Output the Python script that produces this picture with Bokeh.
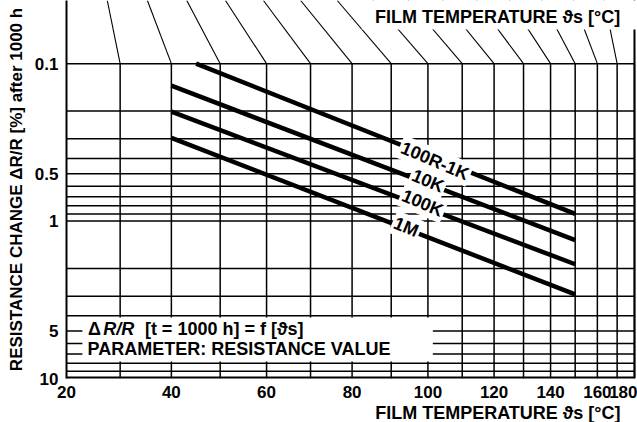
import numpy as np
from bokeh.plotting import figure
from bokeh.models import (Range1d, FixedTicker, CustomJSTickFormatter, BoxAnnotation,
                          Label, ColumnDataSource, Title)
from bokeh.embed import file_html
from bokeh.resources import INLINE

# ---------------- data ----------------
grid_temps = [30, 40, 50, 60, 70, 80, 90, 100, 110, 120, 130, 140, 150, 160, 170, 180]
x_tick_temps = [20, 40, 60, 80, 100, 120, 140, 160, 180]
y_tick_values = [0.1, 0.5, 1, 5, 10]
y_grid_values = [0.1, 0.2, 0.3, 0.4, 0.5, 0.6, 0.7, 0.8, 0.9,
                 1, 2, 3, 4, 5, 6, 7, 8, 9]

series_names = ["100R-1K", "10K", "100K", "1M"]
series_t_start = [45, 40, 40, 40]
series_t_end = [150, 150, 150, 150]
series_dr_start = [0.10, 0.138, 0.202, 0.296]
series_dr_end = [0.90, 1.32, 1.88, 2.92]
label_t = [102, 100, 98.5, 94]
label_dr = [0.415, 0.556, 0.768, 1.09]

TITLE = "FILM TEMPERATURE \u03d1s [\u00b0C]"
Y_LABEL = "RESISTANCE CHANGE \u0394R/R [%] after 1000 h"
NOTE1_PARTS = ["\u0394", "R/R", "[t = 1000 h] = f [\u03d1s]"]
NOTE1_STYLES = ["bold", "bold italic", "bold"]
NOTE1_X = [0.0377, 0.0646, 0.138]
NOTE2 = "PARAMETER: RESISTANCE VALUE"

# ------------- temperature scale of the chart (nomogram axis) -------------
A_BOT, B_BOT = 0.09658, 0.00213
A_TOP, B_TOP = 0.07245, 0.000622


def warp_bottom(T):
    t = (np.asarray(T, dtype=float) - 20.0) / 10.0
    return A_BOT * t - B_BOT * t ** 2


def warp_top(T):
    t = (np.asarray(T, dtype=float) - 20.0) / 10.0
    return A_TOP * t - B_TOP * t ** 2


Y_TOP = 0.0397
X_END = 1.0053
FONT = "Liberation Sans"
FS = "18px"
FS_TICK = "17px"

p = figure(width=637, height=422, y_axis_type="log",
           x_range=Range1d(0, X_END), y_range=Range1d(10, Y_TOP),
           output_backend="svg", toolbar_location=None,
           min_border_left=66, min_border_right=0, min_border_top=0,
           min_border_bottom=0)
p.outline_line_color = None
p.xgrid.visible = False
p.ygrid.visible = False
p.background_fill_color = "white"

# axes
for ax in (p.xaxis[0], p.yaxis[0]):
    ax.axis_line_width = 2
    ax.axis_line_color = "black"
    ax.major_tick_out = 0
    ax.major_tick_in = 0
    ax.minor_tick_out = 0
    ax.minor_tick_in = 0
    ax.major_label_text_font = FONT
    ax.major_label_text_font_style = "bold"
    ax.major_label_text_font_size = FS_TICK
    ax.major_label_text_color = "black"

p.xaxis.ticker = FixedTicker(ticks=[float(v) for v in warp_bottom(x_tick_temps)], minor_ticks=[])
p.xaxis.formatter = CustomJSTickFormatter(code="""
const a = %r, b = %r;
const t = (a - Math.sqrt(Math.max(a*a - 4*b*tick, 0))) / (2*b);
return String(Math.round(20 + 10*t));
""" % (A_BOT, B_BOT))
p.xaxis.major_label_standoff = 7
p.xaxis.axis_line_color = None

p.yaxis.ticker = FixedTicker(ticks=y_tick_values, minor_ticks=[])
p.yaxis.formatter = CustomJSTickFormatter(code="return tick >= 1 ? tick.toFixed(0) : tick.toFixed(1);")
p.yaxis.major_label_standoff = 8
p.yaxis.axis_label = Y_LABEL
p.yaxis.axis_label_text_font = FONT
p.yaxis.axis_label_text_font_style = "bold"
p.yaxis.axis_label_text_font_size = "17px"
p.yaxis.axis_label_text_color = "black"
p.yaxis.axis_label_standoff = 6

# bottom title (x axis caption), right aligned
p.add_layout(Title(text=TITLE, align="right", offset=17, standoff=0,
                   text_font=FONT, text_font_style="bold", text_font_size=FS,
                   text_color="black"), "below")

x_left = float(warp_bottom(20))
x_right = float(warp_bottom(180))

# grid: horizontal lines
p.segment(x0=[x_left] * len(y_grid_values), x1=[x_right] * len(y_grid_values),
          y0=y_grid_values, y1=y_grid_values, line_color="black", line_width=1.5)

# bottom frame line
p.segment(x0=[x_left], x1=[x_right], y0=[10], y1=[10], line_color="black", line_width=4)

# grid: vertical lines in the main field
vx = warp_bottom(grid_temps)
n = len(grid_temps)
p.segment(x0=vx, x1=vx, y0=[min(y_grid_values)] * n, y1=[10] * n,
          line_color="black", line_width=1.5)

# slanted lines above (film temperature nomogram)
tx = warp_top(grid_temps)
p.segment(x0=vx, x1=tx, y0=[min(y_grid_values)] * n, y1=[Y_TOP] * n,
          line_color="black", line_width=1.1)

# right frame line
p.segment(x0=[x_right], x1=[x_right], y0=[10], y1=[Y_TOP], line_color="black", line_width=2)

# resistance curves
src = ColumnDataSource(dict(
    xs=[[float(warp_bottom(a)), float(warp_bottom(b))] for a, b in zip(series_t_start, series_t_end)],
    ys=[[a, b] for a, b in zip(series_dr_start, series_dr_end)],
    name=series_names))
p.multi_line(xs="xs", ys="ys", source=src, line_color="black", line_width=4.5)

# white box under top title
p.add_layout(BoxAnnotation(left=0.52, right=X_END, top=Y_TOP, bottom=0.0607,
                           fill_color="white", fill_alpha=1.0, line_color=None))
# white legend box
p.add_layout(BoxAnnotation(left=0.028, right=0.645, top=4.1, bottom=7.8,
                           fill_color="white", fill_alpha=1.0, line_color=None))


def lab(**kw):
    base = dict(text_font=FONT, text_font_style="bold", text_font_size=FS, text_color="black")
    base.update(kw)
    p.add_layout(Label(**base))


lab(x=0.975, y=0.0509, text=TITLE, text_align="right", text_baseline="middle")
for part, style, xp in zip(NOTE1_PARTS, NOTE1_STYLES, NOTE1_X):
    lab(x=xp, y=4.87, text=part, text_font_style=style, text_align="left", text_baseline="middle")
lab(x=0.037, y=6.54, text=NOTE2, text_align="left", text_baseline="middle")

for nm, lt, ld in zip(series_names, label_t, label_dr):
    lab(x=float(warp_bottom(lt)), y=ld, text=nm, text_align="center", text_baseline="middle",
        angle=-0.40, background_fill_color="white", background_fill_alpha=1.0, padding=2)

open("out.html", "w").write(file_html(p, INLINE))
